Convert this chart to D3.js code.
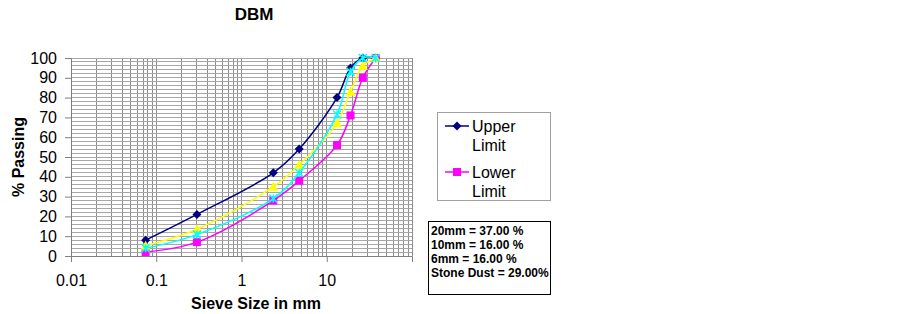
<!DOCTYPE html>
<html>
<head>
<meta charset="utf-8">
<script src="https://cdn.jsdelivr.net/npm/d3@7"></script>
<style>
  html, body { margin: 0; padding: 0; background: #fff; }
  svg { display: block; font-family: Arial, "Liberation Sans", sans-serif; }
</style>
</head>
<body>
<svg id="chart" width="902" height="314"></svg>
<script>
// ---- data ----
const sieveSizes = [37.5, 26.5, 19, 13.2, 4.75, 2.36, 0.3, 0.075];
const upperLimit = [100, 100, 95, 80, 54, 42, 21, 8];
const lowerLimit = [100, 90, 71, 56, 38, 28, 7, 2];
const midGrading = [100, 96, 83, 67, 46, 35, 13.5, 5.2];
const obtained   = [100, 100, 93, 71.5, 42, 29, 10.8, 3.9];
const xTickValues = [0.01, 0.1, 1, 10];
const xTickLabels = ["0.01", "0.1", "1", "10"];
const yTickValues = [0, 10, 20, 30, 40, 50, 60, 70, 80, 90, 100];
const legendNames = ["Upper Limit", "Lower Limit"];
const blendText = ["20mm = 37.00 %", "10mm = 16.00 %", "6mm = 16.00 %", "Stone Dust = 29.00%"];
const titleText = "DBM";
const xTitle = "Sieve Size in mm";
const yTitle = "% Passing";

// ---- layout ----
const svg = d3.select("#chart");
const L = 71, R = 412, T = 58, B = 256;
const x = d3.scaleLog().domain([0.01, 100]).range([L, R]);
const y = d3.scaleLinear().domain([0, 100]).range([B, T]);

// minor grid (vertical log)
const vGrid = [];
for (let e = -2; e < 2; e++) {
  for (let m = 1; m <= 9; m++) vGrid.push(m * Math.pow(10, e));
}
vGrid.push(100);
const grid = svg.append("g");
grid.selectAll("line.v").data(vGrid).join("line")
  .attr("x1", d => x(d)).attr("x2", d => x(d))
  .attr("y1", T).attr("y2", B)
  .attr("stroke", "#8c8c8c").attr("stroke-width", 1).attr("shape-rendering", "crispEdges");
const hGrid = d3.range(0, 101, 2);
grid.selectAll("line.h").data(hGrid).join("line")
  .attr("x1", L).attr("x2", R)
  .attr("y1", d => y(d)).attr("y2", d => y(d))
  .attr("stroke", "#a6a6a6").attr("stroke-width", 1).attr("shape-rendering", "crispEdges");

// axes
const yAxis = d3.axisLeft(y).tickValues(yTickValues).tickSize(6).tickPadding(8);
const gy = svg.append("g").attr("transform", `translate(${L},0)`).call(yAxis);
gy.select(".domain").attr("stroke", "#808080");
gy.selectAll(".tick line").attr("stroke", "#808080");
gy.selectAll(".tick text").attr("font-size", 16).attr("fill", "#000")
  .attr("font-family", "Arial, 'Liberation Sans', sans-serif");

const xAxis = d3.axisBottom(x).tickValues(xTickValues)
  .tickFormat((d, i) => xTickLabels[i]).tickSize(6).tickPadding(13);
const gx = svg.append("g").attr("transform", `translate(0,${B})`).call(xAxis);
gx.select(".domain").attr("stroke", "#808080");
gx.selectAll(".tick line").attr("stroke", "#808080");
gx.selectAll(".tick text").attr("font-size", 16).attr("fill", "#000")
  .attr("font-family", "Arial, 'Liberation Sans', sans-serif");

// titles
svg.append("text").attr("x", 254).attr("y", 20).attr("text-anchor", "middle")
  .attr("font-size", 17).attr("font-weight", "bold").text(titleText);
svg.append("text").attr("x", 256).attr("y", 309).attr("text-anchor", "middle")
  .attr("font-size", 16).attr("font-weight", "bold").text(xTitle);
svg.append("text").attr("transform", "translate(24,157) rotate(-90)").attr("text-anchor", "middle")
  .attr("font-size", 16).attr("font-weight", "bold").text(yTitle);

// series
const series = [
  { name: legendNames[0], values: upperLimit, color: "#000080", marker: "diamond" },
  { name: legendNames[1], values: lowerLimit, color: "#FF00FF", marker: "square" },
  { name: "Mid", values: midGrading, color: "#FFFF00", marker: "triangle" },
  { name: "Obtained", values: obtained, color: "#00FFFF", marker: "star" }
];
const line = d3.line().x(d => x(d[0])).y(d => y(d[1])).curve(d3.curveCatmullRom.alpha(0.5));

function drawMarker(g, type, color, cx, cy) {
  if (type === "diamond") {
    g.append("path").attr("d", `M${cx},${cy-4.5}L${cx+4.5},${cy}L${cx},${cy+4.5}L${cx-4.5},${cy}Z`).attr("fill", color);
  } else if (type === "square") {
    g.append("rect").attr("x", cx - 4).attr("y", cy - 4).attr("width", 8).attr("height", 8).attr("fill", color);
  } else if (type === "triangle") {
    g.append("path").attr("d", `M${cx},${cy-5}L${cx+5},${cy+4}L${cx-5},${cy+4}Z`).attr("fill", color);
  } else if (type === "star") {
    g.append("path").attr("d", `M${cx-4},${cy-4}L${cx+4},${cy+4}M${cx+4},${cy-4}L${cx-4},${cy+4}M${cx},${cy-4}L${cx},${cy+4}`)
      .attr("stroke", color).attr("stroke-width", 1.5).attr("fill", "none");
  }
}

series.forEach(s => {
  const pts = sieveSizes.map((v, i) => [v, s.values[i]]);
  const g = svg.append("g");
  g.append("path").attr("d", line(pts)).attr("fill", "none").attr("stroke", s.color).attr("stroke-width", 1.5);
  pts.forEach(p => drawMarker(g, s.marker, s.color, x(p[0]), y(p[1])));
});

// legend
const lg = svg.append("g");
lg.append("rect").attr("x", 437.5).attr("y", 112.5).attr("width", 113).attr("height", 88)
  .attr("fill", "#fff").attr("stroke", "#a0a0a0");
[[series[0], 126], [series[1], 172]].forEach(([s, ly]) => {
  lg.append("line").attr("x1", 445).attr("x2", 469).attr("y1", ly).attr("y2", ly)
    .attr("stroke", s.color).attr("stroke-width", 1.5);
  drawMarker(lg, s.marker, s.color, 457, ly);
  const parts = s.name.split(" ");
  lg.append("text").attr("x", 472).attr("y", ly + 6).attr("font-size", 16).text(parts[0]);
  lg.append("text").attr("x", 472).attr("y", ly + 25).attr("font-size", 16).text(parts[1]);
});

// blend text box
const tb = svg.append("g");
tb.append("rect").attr("x", 428.5).attr("y", 221.5).attr("width", 122).attr("height", 73)
  .attr("fill", "#fff").attr("stroke", "#000");
blendText.forEach((t, i) => {
  tb.append("text").attr("x", 431).attr("y", 235 + i * 14).attr("font-size", 12)
    .attr("font-weight", "bold").text(t);
});
</script>
</body>
</html>
